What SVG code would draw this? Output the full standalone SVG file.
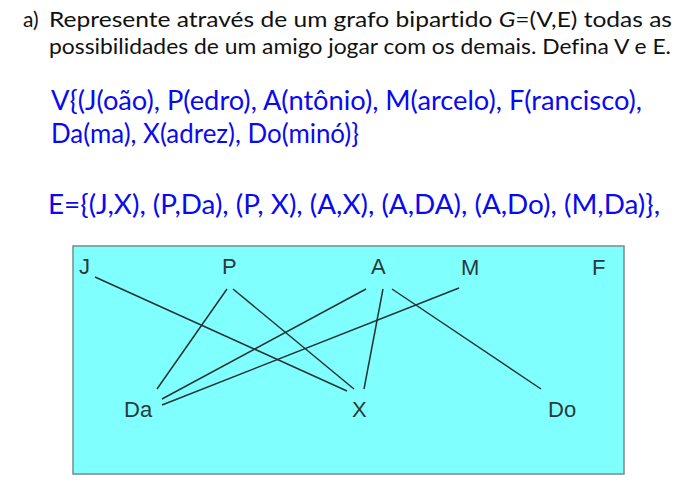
<svg xmlns="http://www.w3.org/2000/svg" width="690" height="489" viewBox="0 0 690 489">
<style>
.q{font-family:"Lato","Open Sans","Liberation Sans",sans-serif;font-size:21px;fill:#111;font-variant-ligatures:none}
.b{font-family:"Lato","Open Sans","Liberation Sans",sans-serif;font-size:26px;fill:#0a0aee;font-variant-ligatures:none}
.lbl{font-family:"Liberation Sans",Arial,sans-serif;font-size:22px;fill:#2a3a3a}
.e{stroke:#223333;stroke-width:1.5;fill:none}
</style>
<rect width="690" height="489" fill="#ffffff"/>
<g id="question">
<text class="q" x="23" y="27">a)</text>
<text class="q" x="49" y="27" textLength="623" lengthAdjust="spacingAndGlyphs">Represente através de um grafo bipartido <tspan font-style="italic">G</tspan>=(V,E) todas as</text>
<text class="q" x="49" y="54" textLength="622" lengthAdjust="spacingAndGlyphs">possibilidades de um amigo jogar com os demais. Defina V e E.</text>
</g>
<g id="answer">
<text class="b" x="51" y="110" textLength="591" lengthAdjust="spacingAndGlyphs">V{(J(oão), P(edro), A(ntônio), M(arcelo), F(rancisco),</text>
<text class="b" x="51" y="143" textLength="308" lengthAdjust="spacingAndGlyphs">Da(ma), X(adrez), Do(minó)}</text>
<text class="b" x="48" y="214" textLength="612" lengthAdjust="spacingAndGlyphs">E={(J,X), (P,Da), (P, X), (A,X), (A,DA), (A,Do), (M,Da)},</text>
</g>
<rect id="graph-area" x="73" y="246" width="551" height="228" fill="#80ffff" stroke="#7a8a8a" stroke-width="1.5"/>
<g id="edges">
<line class="e" x1="95" y1="277" x2="347" y2="391"/>
<line class="e" x1="227" y1="289" x2="157" y2="389"/>
<line class="e" x1="233" y1="289" x2="354" y2="389"/>
<line class="e" x1="366" y1="289" x2="162" y2="399"/>
<line class="e" x1="383" y1="289" x2="364" y2="389"/>
<line class="e" x1="392" y1="289" x2="541" y2="389"/>
<line class="e" x1="459" y1="288" x2="162" y2="405"/>
</g>
<g id="node-J"><text class="lbl" x="79" y="274">J</text></g>
<g id="node-P"><text class="lbl" x="222" y="274">P</text></g>
<g id="node-A"><text class="lbl" x="371" y="274">A</text></g>
<g id="node-M"><text class="lbl" x="461" y="275">M</text></g>
<g id="node-F"><text class="lbl" x="592" y="275">F</text></g>
<g id="node-Da"><text class="lbl" x="124" y="417">Da</text></g>
<g id="node-X"><text class="lbl" x="352" y="417">X</text></g>
<g id="node-Do"><text class="lbl" x="548" y="417">Do</text></g>
</svg>
